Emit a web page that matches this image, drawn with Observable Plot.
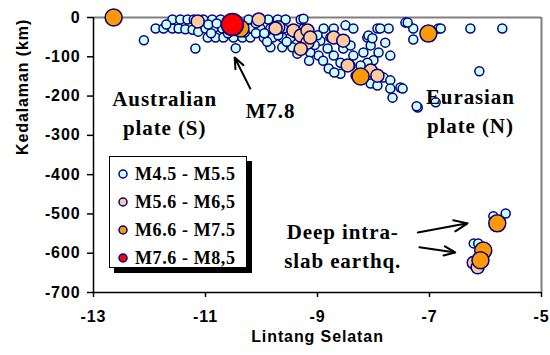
<!DOCTYPE html>
<html><head><meta charset="utf-8">
<script src="https://cdn.jsdelivr.net/npm/d3@7"></script>
<script src="https://cdn.jsdelivr.net/npm/@observablehq/plot@0.6"></script>
<style>
body{margin:0;background:#fff;}
#wrap{position:relative;width:550px;height:355px;}
#wrap svg{font-family:"Liberation Sans",Arial,sans-serif;font-weight:bold;letter-spacing:0.9px;background:#fff;}
#legend{position:absolute;left:109px;top:156px;width:136px;height:110px;border:1px solid #000;background:#fff;box-shadow:5px 5px 0 #000;font:bold 18px "Liberation Serif",serif;letter-spacing:0.6px;}
#legend .row{position:absolute;left:0;height:24px;line-height:24px;white-space:nowrap;}
#legend .row svg{position:absolute;left:7px;top:6px;}
#legend .row span{position:absolute;left:25px;top:0;}
</style>
</head><body>
<div id="wrap"></div>
<script>
// Magnitude classes (legend)
const classLabels = ["M4.5 - M5.5", "M5.6 - M6,5", "M6.6 - M7.5", "M7.6 - M8,5"];
const classFills = ["#ccffff", "#ffcc99", "#ff9900", "#ff0000"];
const classRadii = [4.5, 6.5, 8.5, 11];

// Axis ticks
const xTicks = [-13, -11, -9, -7, -5];
const yTicks = [0, -100, -200, -300, -400, -500, -600, -700];

// [latitude, depth km]
const m45 = [
  [-12.1,-58],[-11.89,-28],[-11.75,-28],[-11.59,-28],[-11.48,-28],[-11.36,-30],[-11.23,-31],[-11.13,-36],
  [-11.59,-5],[-11.45,-5],[-11.32,-5],[-11.21,-5],[-11.18,-79],[-11.04,-5],[-10.88,-5],[-10.73,-5],
  [-10.23,-5],[-9.88,-5],[-9.71,-5],[-9.57,-5],[-9.30,-5],[-11.0,-28],[-10.86,-28],[-10.70,-28],
  [-10.20,-28],[-10.02,-28],[-9.84,-28],[-9.61,-28],[-9.25,-28],[-10.96,-51],[-10.82,-51],[-10.68,-51],
  [-10.5,-51],[-10.34,-51],[-10.20,-51],[-9.96,-51],[-9.80,-51],[-9.63,-51],[-9.48,-51],[-10.46,-78],
  [-9.84,-76],[-9.63,-76],[-9.45,-76],[-9.30,-76],[-9.36,-92],[-9.25,-3],[-8.89,-28],[-8.71,-28],
  [-8.50,-20],[-8.36,-28],[-8.11,-51],[-7.93,-28],[-7.73,-28],[-7.79,-64],[-7.70,-97],[-7.91,-89],
  [-8.0,-109],[-8.11,-115],[-8.23,-122],[-8.41,-122],[-8.59,-115],[-8.71,-97],[-8.82,-79],[-8.98,-97],
  [-9.13,-89],[-9.25,-79],[-8.95,-59],[-8.54,-79],[-8.36,-97],[-8.18,-89],[-8.05,-71],[-8.41,-71],
  [-8.59,-143],[-8.32,-148],[-7.82,-153],[-7.70,-160],[-7.52,-178],[-7.70,-181],[-7.66,-204],[-8.05,-168],
  [-7.93,-173],[-7.43,-13],[-7.29,-28],[-7.29,-56],[-6.84,-28],[-6.80,-28],[-6.27,-28],[-5.70,-28],
  [-6.11,-137],[-7.48,-181],[-7.21,-229],[-7.23,-226],[-6.89,-216],[-7.39,-13],[-8.09,-46],[-8.02,-53],
  [-7.88,-28],[-8.77,-51],[-10.9,-40],[-10.6,-40],[-9.4,-40],[-9.2,-60],[-9.05,-70],[-8.9,-110],
  [-8.8,-130],[-8.7,-140],[-9.0,-45],[-9.15,-110],[-10.1,-40],[-9.9,-62],
  [-11.7,-18],[-10.95,-18],[-10.8,-15],[-10.1,-15],[-9.95,-40],[-9.7,-45],[-9.55,-62],[-10.3,-38],
  [-5.64,-499],[-5.86,-506],[-6.21,-575],[-6.13,-575]
];
const m56 = [
  [-11.14,-10],[-10.05,-5],[-9.70,-25],[-9.75,-28],[-9.43,-33],[-9.30,-46],[-9.18,-64],[-9.18,-33],
  [-9.13,-51],[-9.3,-80],[-8.71,-51],[-8.54,-59],[-8.46,-122],[-8.05,-135],[-7.93,-148],
  [-6.21,-624],[-6.14,-636]
];
const m66 = [
  [-12.64,0],[-10.375,-28],[-7.02,-41],[-8.23,-150],[-5.79,-524],[-6.04,-593],[-6.09,-618]
];
const m76 = [
  [-10.52,-18]
];
const groups = [m45, m56, m66, m76];

// Annotations
const notes = [
  {text: "Australian\nplate (S)", x: -11.73, y: -239},
  {text: "M7.8", x: -9.84, y: -232},
  {text: "Eurasian\nplate (N)", x: -6.27, y: -234},
  {text: "Deep intra-\nslab earthq.", x: -8.55, y: -578}
];
const arrows = [
  {x1: -10.20, y1: -181, x2: -10.48, y2: -102},
  {x1: -7.21, y1: -547, x2: -6.32, y2: -524},
  {x1: -7.18, y1: -585, x2: -6.54, y2: -598}
];

const chart = Plot.plot({
  width: 550, height: 355,
  marginLeft: 93, marginRight: 9, marginTop: 17, marginBottom: 63,
  x: {domain: [-13, -5]},
  y: {domain: [-700, 0]},
  marks: [
    Plot.ruleY([0], {stroke: "#808080", strokeWidth: 2}),
    Plot.ruleX([-5], {stroke: "#808080", strokeWidth: 2}),
    Plot.ruleX([-13], {stroke: "#000", strokeWidth: 1.5}),
    Plot.ruleY([-700], {stroke: "#000", strokeWidth: 1.5}),
    Plot.axisX({ticks: xTicks, tickSize: 5, tickPadding: 13, tickFormat: d => String(d), label: null, fontSize: 16, stroke: "#000", strokeWidth: 1.5}),
    Plot.axisY({ticks: yTicks, tickSize: 6, tickPadding: 7, tickFormat: d => String(d), label: null, fontSize: 16, stroke: "#000", strokeWidth: 1.5}),
    ...groups.map((g, i) => Plot.dot(g, {x: d => d[0], y: d => d[1], r: classRadii[i], fill: classFills[i], stroke: "#000080", strokeWidth: 1.5})),
    Plot.arrow(arrows, {x1: "x1", y1: "y1", x2: "x2", y2: "y2", stroke: "#000", strokeWidth: 2, headLength: 11, headAngle: 45}),
    Plot.text(notes, {x: "x", y: "y", text: "text", fontFamily: "Liberation Serif", fontWeight: "bold", fontSize: 21, lineHeight: 1.35, fill: "#000"}),
    Plot.text(["Kedalaman (km)"], {frameAnchor: "left", rotate: -90, dx: -71, fontSize: 16, fill: "#000"}),
    Plot.text(["Lintang Selatan"], {frameAnchor: "bottom", dy: 49, fontSize: 16, fill: "#000"})
  ]
});
const wrap = document.getElementById("wrap");
wrap.appendChild(chart);

// Legend
const legend = document.createElement("div");
legend.id = "legend";
const rowTops = [5, 33, 61, 89];
classLabels.forEach((lab, i) => {
  const row = document.createElement("div");
  row.className = "row";
  row.style.top = rowTops[i] + "px";
  row.innerHTML = `<svg width="12" height="12"><circle cx="6" cy="6" r="4" fill="${classFills[i]}" stroke="#000080" stroke-width="1.5"/></svg><span>${lab}</span>`;
  legend.appendChild(row);
});
wrap.appendChild(legend);
</script>
</body></html>
